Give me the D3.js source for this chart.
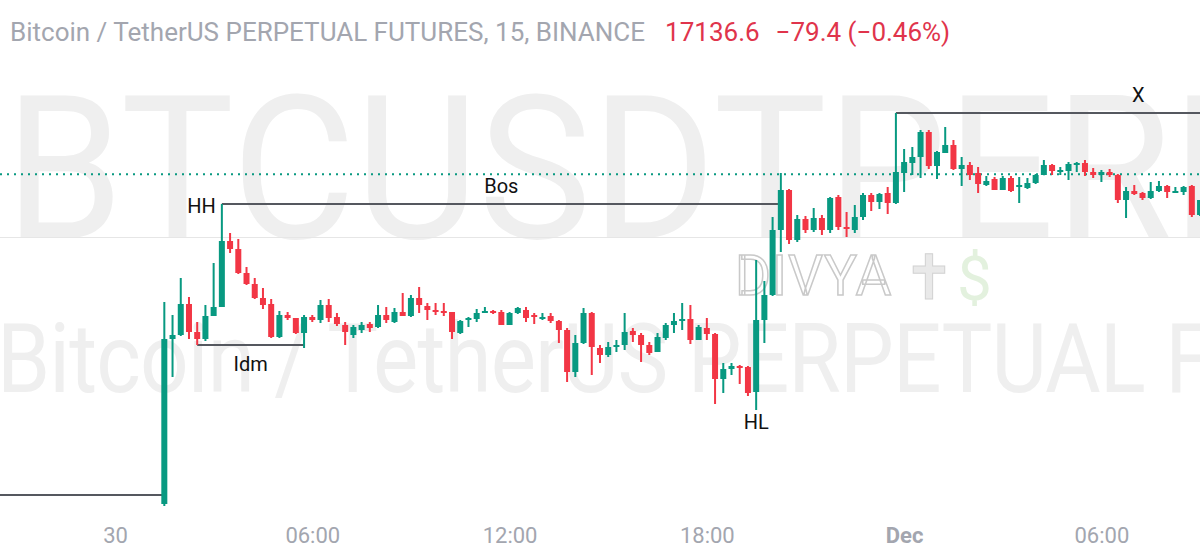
<!DOCTYPE html>
<html>
<head>
<meta charset="utf-8">
<script src="https://cdn.jsdelivr.net/npm/d3@7"></script>
<style>
body { margin: 0; background: #fff; }
text { font-family: Roboto, "Noto Sans", sans-serif; }
</style>
</head>
<body>
<svg class="chart"></svg>
<script>
var width = 1200, height = 558;

// 15 min candles, first one opens 30 Nov 01:30 (UTC)
var opens = [
16477,16807,16815,16877,16821,16807,16853,16871,17003,16987,
16939,16917,16889,16877,16811,16855,16849,16819,16851,16845,
16875,16851,16835,16815,16825,16837,16831,16855,16841,16861,
16853,16889,16873,16865,16863,16861,16819,16845,16847,16859,
16863,16861,16835,16859,16865,16855,16849,16853,16843,16825,
16741,16799,16859,16789,16775,16791,16795,16823,16815,16795,
16781,16809,16835,16843,16847,16805,16829,16817,16727,16747,
16753,16751,16701,16845,16895,17025,17105,17005,17047,17025,
17049,17025,17091,17031,17025,17051,17095,17081,17099,17079,
17139,17159,17171,17221,17153,17179,17195,17147,17155,17139,
17115,17127,17105,17129,17113,17109,17119,17135,17155,17141,
17143,17157,17159,17141,17135,17141,17135,17085,17103,17099,
17089,17103,17113,17101,17101,17113,17055];
var highs = [
16881,16855,16929,16891,16841,16875,16959,17077,17019,17007,
16951,16929,16909,16887,16863,16861,16849,16855,16855,16885,
16887,16859,16841,16835,16841,16841,16875,16871,16869,16899,
16895,16911,16879,16879,16879,16861,16845,16851,16867,16871,
16865,16865,16861,16871,16871,16859,16859,16859,16845,16829,
16815,16869,16861,16795,16801,16805,16859,16829,16819,16801,
16819,16839,16859,16879,16875,16835,16849,16819,16759,16759,
16755,16753,16965,16923,17051,17139,17107,17055,17053,17069,
17055,17091,17095,17061,17075,17099,17099,17099,17111,17259,
17187,17191,17225,17225,17183,17231,17205,17171,17161,17151,
17133,17131,17133,17133,17131,17129,17137,17165,17157,17151,
17161,17161,17165,17149,17145,17147,17137,17111,17115,17101,
17121,17123,17115,17111,17113,17115,17085];
var lows = [
16473,16731,16813,16807,16795,16803,16853,16871,16979,16937,
16915,16887,16867,16809,16809,16845,16817,16789,16841,16839,
16841,16833,16795,16809,16819,16821,16829,16839,16839,16853,
16851,16859,16845,16855,16853,16807,16817,16831,16841,16859,
16857,16835,16835,16857,16841,16837,16845,16839,16799,16721,
16731,16797,16735,16759,16771,16781,16785,16801,16761,16775,
16781,16805,16819,16825,16797,16805,16805,16677,16699,16735,
16717,16693,16665,16799,16893,16981,16997,17001,17019,17021,
17015,17019,17025,17011,17019,17045,17063,17067,17057,17077,
17101,17135,17129,17147,17127,17179,17145,17113,17125,17099,
17113,17105,17105,17101,17079,17107,17117,17135,17135,17135,
17125,17141,17133,17129,17121,17131,17079,17049,17095,17085,
17087,17101,17089,17099,17095,17051,17053];
var closes = [
16807,16815,16877,16821,16807,16853,16871,17003,16987,16939,
16917,16889,16875,16811,16855,16849,16819,16851,16845,16875,
16849,16837,16821,16831,16835,16829,16855,16845,16861,16853,
16889,16875,16865,16861,16861,16821,16843,16849,16859,16863,
16859,16835,16859,16869,16849,16851,16851,16843,16825,16741,
16799,16859,16791,16775,16791,16795,16821,16815,16795,16779,
16811,16835,16843,16847,16805,16831,16817,16727,16747,16753,
16751,16699,16845,16895,17025,17105,17005,17047,17025,17049,
17025,17089,17031,17029,17051,17095,17081,17097,17079,17141,
17161,17171,17221,17153,17181,17195,17147,17155,17135,17117,
17123,17105,17129,17103,17115,17119,17135,17155,17143,17145,
17157,17159,17141,17135,17141,17135,17085,17103,17097,17089,
17103,17113,17101,17103,17111,17055,17085];

var startTime = Date.UTC(2022, 10, 30, 1, 30);
var step = 15 * 60 * 1000;

// time axis
var tickDates = [Date.UTC(2022,10,30,0), Date.UTC(2022,10,30,6), Date.UTC(2022,10,30,12),
                 Date.UTC(2022,10,30,18), Date.UTC(2022,11,1,0), Date.UTC(2022,11,1,6)];
var tickLabels = ["30", "06:00", "12:00", "18:00", "Dec", "06:00"];

var lastPrice = 17136.6;
var gridPrices = [17010];

// drawn levels: candle index from/to and price
var levelFrom  = [-30, 7, 4, 89];
var levelTo    = [0, 75, 17, 160];
var levelPrice = [16495, 17077, 16795, 17259];

// structure labels
var labelText  = ["HH", "Bos", "Idm", "HL", "X"];
var labelAt    = [7, 41, 10.5, 72, 118.5];
var labelPrice = [17077, 17077, 16795, 16665, 17259];

var chart = d3.select(".chart")
    .attr("width", width)
    .attr("height", height);

var x = d3.scaleUtc()
    .domain([new Date(Date.UTC(2022,10,30,0)), new Date(Date.UTC(2022,11,1,0))])
    .range([115, 115 + 96 * 8.22]);

var y = d3.scaleLinear()
    .domain([16485, 17245])
    .range([500, 120]);

function tx(i) { return x(new Date(startTime + i * step)); }

// watermarks
chart.append("text")
    .attr("transform", "translate(5,238) scale(0.95,1)")
    .attr("font-size", 200)
    .attr("fill", "#efefef")
    .text("BTCUSDTPERPETUAL");

chart.append("text")
    .attr("transform", "translate(-3,392) scale(0.88,1)")
    .attr("font-size", 97)
    .attr("letter-spacing", -1)
    .attr("fill", "#efefef")
    .text("Bitcoin / TetherUS PERPETUAL FUTURES");

var logo = chart.append("g").attr("transform", "translate(735,295)");
logo.append("text")
    .attr("font-size", 55)
    .attr("letter-spacing", 1)
    .attr("fill", "#fff")
    .attr("stroke", "#c9c9c9")
    .attr("stroke-width", 1.5)
    .text("DIVYA");
logo.append("text")
    .attr("x", 168).attr("y", 4)
    .attr("font-size", 62)
    .attr("font-family", "DejaVu Sans")
    .attr("fill", "#e9e9e9")
    .attr("stroke", "#d2d2d2")
    .text("\u271D");
logo.append("text")
    .attr("x", 222).attr("y", 5)
    .attr("font-size", 62)
    .attr("fill", "#e3f1de")
    .text("$");

// grid
chart.selectAll(".grid")
    .data(gridPrices)
    .enter().append("line")
    .attr("x1", 0).attr("x2", width)
    .attr("y1", function(d) { return y(d); })
    .attr("y2", function(d) { return y(d); })
    .attr("stroke", "#e6e6e6")
    .attr("stroke-width", 1);

// last price line
chart.append("line")
    .attr("x1", 0).attr("x2", width)
    .attr("y1", y(lastPrice)).attr("y2", y(lastPrice))
    .attr("stroke", "#089981")
    .attr("stroke-width", 2)
    .attr("stroke-dasharray", "2,5");

// levels
chart.selectAll(".level")
    .data(levelPrice)
    .enter().append("line")
    .attr("x1", function(d, i) { return Math.max(0, tx(levelFrom[i])); })
    .attr("x2", function(d, i) { return Math.min(width, tx(levelTo[i])); })
    .attr("y1", function(d) { return y(d); })
    .attr("y2", function(d) { return y(d); })
    .attr("stroke", "#55585f")
    .attr("stroke-width", 2);

// candles
var candle = chart.selectAll(".candle")
    .data(opens)
    .enter().append("g")
    .attr("transform", function(d, i) { return "translate(" + tx(i) + ",0)"; })
    .attr("fill", function(d, i) { return closes[i] >= d ? "#089981" : "#f23645"; });

candle.append("rect")
    .attr("x", -1)
    .attr("width", 2)
    .attr("y", function(d, i) { return y(highs[i]); })
    .attr("height", function(d, i) { return y(lows[i]) - y(highs[i]); });

candle.append("rect")
    .attr("x", -3)
    .attr("width", 6)
    .attr("y", function(d, i) { return y(Math.max(d, closes[i])); })
    .attr("height", function(d, i) { return Math.max(2, Math.abs(y(d) - y(closes[i]))); });

// labels
chart.selectAll(".lbl")
    .data(labelText)
    .enter().append("text")
    .attr("x", function(d, i) { return d == "HH" ? tx(labelAt[i]) - 6 : tx(labelAt[i]); })
    .attr("y", function(d, i) {
        var off = {HH: 9, Bos: -11, Idm: 26, HL: 19, X: -11}[d];
        return y(labelPrice[i]) + off;
    })
    .attr("text-anchor", function(d) { return d == "HH" ? "end" : "middle"; })
    .attr("font-size", 20)
    .attr("fill", "#111")
    .text(function(d) { return d; });

// axis
var x_axis = d3.axisBottom(x)
    .tickValues(tickDates.map(function(d) { return new Date(d); }))
    .tickFormat(function(d, i) { return tickLabels[i]; })
    .tickSize(0)
    .tickPadding(0);

var ax = chart.append("g")
    .attr("transform", "translate(0,527)")
    .call(x_axis);
ax.select(".domain").remove();
ax.selectAll("text")
    .attr("font-size", 22)
    .attr("font-family", "Roboto")
    .attr("fill", "#a3a6af")
    .attr("font-weight", function(d, i) { return tickLabels[i] == "Dec" ? "bold" : null; });

// header
var head = chart.append("text")
    .attr("x", 10).attr("y", 41)
    .attr("font-size", 26);
head.append("tspan")
    .attr("fill", "#a3a6af")
    .text("Bitcoin / TetherUS PERPETUAL FUTURES, 15, BINANCE");
head.append("tspan")
    .attr("dx", 20)
    .attr("fill", "#e0344b")
    .text(lastPrice.toFixed(1));
head.append("tspan")
    .attr("dx", 16)
    .attr("fill", "#e0344b")
    .text("\u221279.4 (\u22120.46%)");
</script>
</body>
</html>
